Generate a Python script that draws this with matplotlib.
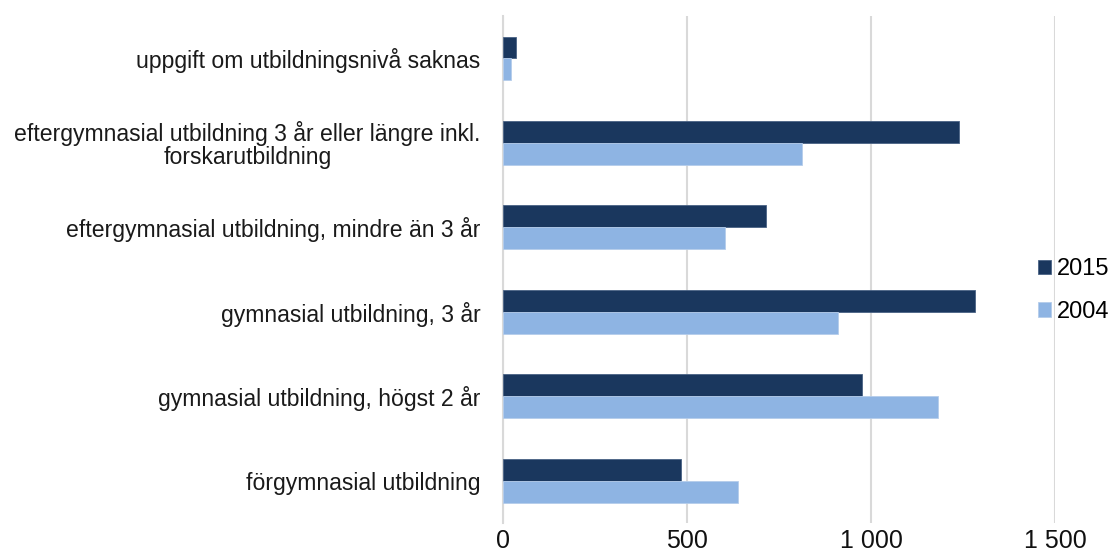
import numpy as np
import matplotlib.pyplot as plt

# Categories listed bottom to top (as drawn)
categories = [
    'förgymnasial utbildning',
    'gymnasial utbildning, högst 2 år',
    'gymnasial utbildning, 3 år',
    'eftergymnasial utbildning, mindre än 3 år',
    'eftergymnasial utbildning 3 år eller längre inkl.\nforskarutbildning',
    'uppgift om utbildningsnivå saknas',
]
values_2015 = [484, 977, 1282, 714, 1239, 35]
values_2004 = [638, 1182, 910, 604, 813, 22]
xticks = [0, 500, 1000, 1500]
xtick_labels = ['0', '500', '1 000', '1 500']

dark = '#1A375E'
light = '#8EB4E3'
grid = '#D9D9D9'

plt.rcParams['font.family'] = ['Liberation Sans', 'DejaVu Sans']

fig = plt.figure(figsize=(11.14, 5.6), dpi=100)
ax = fig.add_axes([0.4515, 0.066, 0.4955, 0.905])

y = np.arange(len(categories))
h = 0.26
b1 = ax.barh(y + h / 2, values_2015, height=h, color=dark, edgecolor='#4A6385',
             linewidth=0.6, label='2015', zorder=3)
b2 = ax.barh(y - h / 2, values_2004, height=h, color=light, edgecolor='#B5CDEB',
             linewidth=0.6, label='2004', zorder=3)

ax.set_xlim(0, 1500)
ax.set_ylim(-0.5, len(categories) - 0.5)
ax.set_xticks(xticks)
ax.set_xticklabels(xtick_labels, fontsize=18, color='#111111')
ax.set_yticks(y)
ax.set_yticklabels(categories, fontsize=16.6, color='#1a1a1a',
                   multialignment='center', linespacing=1.0)
ax.tick_params(axis='y', length=0, pad=16)
ax.tick_params(axis='x', length=0, pad=4)

ax.xaxis.grid(True, color=grid, linewidth=1.5, zorder=0)
for s in ['top', 'right', 'bottom']:
    ax.spines[s].set_visible(False)
ax.spines['left'].set_color(grid)
ax.spines['left'].set_linewidth(1.5)

fig.legend(handles=[b1, b2], labels=['2015', '2004'], loc='center left',
           bbox_to_anchor=(0.932, 0.481), frameon=False, fontsize=17,
           handlelength=0.55, handleheight=0.55, handletextpad=0.25,
           labelspacing=0.87, borderaxespad=0, borderpad=0)

fig.savefig('out.png', dpi=100)
